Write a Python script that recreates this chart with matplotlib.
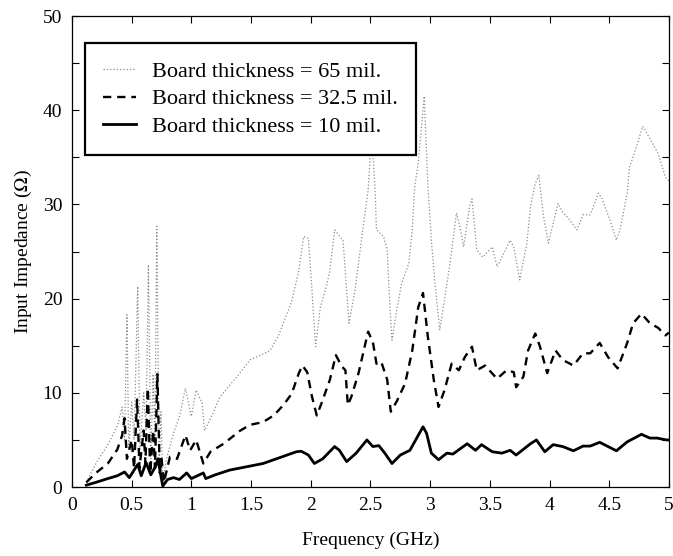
import numpy as np
import matplotlib
matplotlib.use("Agg")
import matplotlib.pyplot as plt
from matplotlib.ticker import MultipleLocator

plt.rcParams['font.family'] = ['Liberation Serif', 'DejaVu Serif']
plt.rcParams['mathtext.fontset'] = 'stix'

# Board thickness = 65 mil (dotted)
f_65 = [0.12, 0.2, 0.3, 0.38, 0.42, 0.44, 0.46, 0.475, 0.5, 0.52, 0.55, 0.57, 0.6, 0.62,
        0.64, 0.66, 0.68, 0.695, 0.71, 0.73, 0.745, 0.76, 0.79, 0.85, 0.9, 0.95, 1.0,
        1.04, 1.09, 1.11, 1.18, 1.24, 1.32, 1.4, 1.49, 1.58, 1.66, 1.73, 1.84, 1.9, 1.94,
        1.98, 2.01, 2.04, 2.08, 2.13, 2.16, 2.2, 2.27, 2.3, 2.32, 2.37, 2.41, 2.45, 2.48,
        2.51, 2.54, 2.55, 2.61, 2.64, 2.66, 2.68, 2.72, 2.76, 2.82, 2.85, 2.87, 2.9, 2.95,
        2.98, 3.01, 3.04, 3.08, 3.12, 3.17, 3.22, 3.25, 3.28, 3.33, 3.35, 3.39, 3.44, 3.52,
        3.56, 3.6, 3.67, 3.7, 3.75, 3.81, 3.84, 3.88, 3.91, 3.95, 3.99, 4.03, 4.07, 4.11,
        4.16, 4.23, 4.28, 4.34, 4.41, 4.44, 4.51, 4.56, 4.59, 4.65, 4.67, 4.72, 4.78, 4.84,
        4.91, 4.97, 5.0]
z_65 = [0.5, 2.5, 4.5, 6.5, 8.5, 5.0, 18.3, 4.0, 9.0, 5.0, 21.3, 4.0, 10.0, 6.0,
        23.6, 3.0, 12.0, 5.0, 27.7, 2.0, 8.0, 0.5, 2.9, 5.7, 7.5, 10.5, 7.5,
        10.3, 8.9, 6.0, 7.8, 9.6, 10.8, 12.0, 13.5, 14.0, 14.5, 16.1, 19.7, 23.0, 26.6,
        26.4, 20.9, 14.9, 19.1, 21.3, 23.0, 27.3, 26.2, 20.9, 17.4, 20.9, 24.8, 28.7, 31.5,
        37.5, 31.2, 27.3, 26.6, 25.2, 19.9, 15.6, 18.8, 21.6, 23.7, 27.3, 31.9, 34.4, 41.5,
        32.2, 26.2, 21.6, 16.7, 19.9, 24.1, 29.1, 27.6, 25.5, 29.8, 30.6, 25.2, 24.4, 25.5,
        23.4, 24.4, 26.2, 25.5, 22.0, 25.9, 29.8, 32.2, 33.1, 28.7, 25.9, 28.0, 30.1, 29.2,
        28.5, 27.3, 28.9, 28.9, 31.2, 30.6, 28.2, 26.2, 27.3, 31.2, 34.0, 35.8, 38.3, 37.0,
        35.4, 32.9, 32.5]

# Board thickness = 32.5 mil (dashed)
f_325 = [0.12, 0.2, 0.3, 0.38, 0.42, 0.44, 0.46, 0.5, 0.52, 0.545, 0.565, 0.6, 0.615,
         0.635, 0.655, 0.68, 0.695, 0.715, 0.735, 0.75, 0.77, 0.82, 0.88, 0.95, 0.99,
         1.04, 1.1, 1.16, 1.27, 1.41, 1.49, 1.6, 1.69, 1.77, 1.84, 1.9, 1.93, 1.97, 2.01,
         2.05, 2.09, 2.16, 2.21, 2.26, 2.29, 2.31, 2.34, 2.4, 2.48, 2.52, 2.55, 2.59, 2.64,
         2.67, 2.72, 2.79, 2.85, 2.9, 2.94, 2.98, 3.03, 3.07, 3.12, 3.18, 3.24, 3.29, 3.35,
         3.39, 3.46, 3.56, 3.64, 3.7, 3.72, 3.78, 3.82, 3.88, 3.92, 3.98, 4.05, 4.11, 4.2,
         4.28, 4.34, 4.42, 4.49, 4.57, 4.65, 4.7, 4.77, 4.84, 4.91, 4.97, 5.0]
z_325 = [0.5, 1.5, 2.5, 4.0, 5.5, 7.3, 3.0, 5.0, 2.0, 9.3, 2.0, 6.0, 2.5,
         10.5, 1.5, 6.0, 2.0, 12.0, 1.5, 3.0, 0.5, 3.2, 3.0, 5.5, 3.9,
         5.0, 2.5, 3.75, 4.6, 6.0, 6.6, 6.9, 7.6, 8.7, 9.9, 12.1, 12.9, 12.2, 9.6,
         7.6, 8.9, 11.4, 14.0, 12.8, 12.4, 8.7, 9.6, 12.1, 16.5, 15.4, 13.1, 13.3, 11.4,
         8.0, 9.1, 11.0, 14.5, 19.1, 20.6, 16.0, 11.4, 8.5, 10.3, 13.1, 12.4, 13.8, 14.9,
         12.4, 12.9, 11.5, 12.4, 12.2, 10.6, 11.7, 14.5, 16.3, 14.9, 12.1, 14.5, 13.5, 12.9,
         14.2, 14.2, 15.3, 13.8, 12.6, 15.3, 17.4, 18.4, 17.4, 16.9, 16.1, 16.4]

# Board thickness = 10 mil (solid)
f_10 = [0.12, 0.2, 0.3, 0.38, 0.44, 0.48, 0.55, 0.58, 0.62, 0.66, 0.7, 0.72, 0.74, 0.76,
        0.8, 0.85, 0.9, 0.96, 1.0, 1.05, 1.1, 1.12, 1.2, 1.32, 1.6, 1.88, 1.92, 1.98,
        2.03, 2.1, 2.2, 2.24, 2.3, 2.38, 2.47, 2.52, 2.57, 2.62, 2.68, 2.75, 2.83, 2.94,
        2.97, 3.01, 3.07, 3.14, 3.19, 3.31, 3.38, 3.43, 3.52, 3.6, 3.67, 3.72, 3.84, 3.89,
        3.96, 4.03, 4.11, 4.2, 4.28, 4.34, 4.42, 4.56, 4.65, 4.77, 4.84, 4.9, 4.98, 5.0]
z_10 = [0.2, 0.5, 0.9, 1.2, 1.6, 1.0, 2.4, 1.2, 2.6, 1.3, 2.2, 3.0, 1.5, 0.1,
        0.8, 1.0, 0.8, 1.5, 0.9, 1.2, 1.5, 0.9, 1.3, 1.8, 2.5, 3.75, 3.8, 3.4,
        2.5, 3.0, 4.3, 3.9, 2.7, 3.6, 5.0, 4.3, 4.4, 3.6, 2.5, 3.4, 3.9, 6.4,
        5.7, 3.6, 2.9, 3.6, 3.5, 4.6, 3.9, 4.5, 3.75, 3.6, 3.9, 3.4, 4.6, 5.0,
        3.75, 4.5, 4.3, 3.85, 4.35, 4.35, 4.75, 3.85, 4.8, 5.6, 5.2, 5.2, 5.0, 5.0]

x_ticks = [0, 0.5, 1, 1.5, 2, 2.5, 3, 3.5, 4, 4.5, 5]
x_ticklabels = ['0', '0.5', '1', '1.5', '2', '2.5', '3', '3.5', '4', '4.5', '5']
y_ticks = [0, 10, 20, 30, 40, 50]

fig = plt.figure(figsize=(6.73, 5.56), dpi=100)
ax = fig.add_axes([0.107, 0.124, 0.887, 0.847])

ax.plot(f_65, z_65, linestyle=':', color='0.55', linewidth=0.9,
        label='Board thickness = 65 mil.')
ax.plot(f_325, z_325, linestyle=(0, (3.5, 2.5)), color='black', linewidth=1.7,
        label='Board thickness = 32.5 mil.')
ax.plot(f_10, z_10, linestyle='-', color='black', linewidth=2.0,
        label='Board thickness = 10 mil.')

ax.set_xlim(0, 5)
ax.set_ylim(0, 50)
ax.set_xticks(x_ticks)
ax.set_xticklabels(x_ticklabels)
ax.set_yticks(y_ticks)
ax.yaxis.set_minor_locator(MultipleLocator(5))
ax.tick_params(which='both', direction='in', top=True, right=True,
               length=5, width=0.8, labelsize=14)
ax.tick_params(axis='y', pad=7)
ax.tick_params(axis='x', pad=7)
for s in ax.spines.values():
    s.set_linewidth(0.9)

ax.set_xlabel('Frequency (GHz)', fontsize=14, labelpad=13)
ax.set_ylabel('Input Impedance ($\\Omega$)', fontsize=14, labelpad=6)

leg = ax.legend(loc='upper left', bbox_to_anchor=(0.022, 0.943), fontsize=16,
                frameon=True, fancybox=False, shadow=False, borderpad=0.82,
                handlelength=1.45, handletextpad=0.75, labelspacing=0.32,
                borderaxespad=0)
leg.get_frame().set_edgecolor('black')
leg.get_frame().set_linewidth(1.6)
leg.get_frame().set_alpha(1)

fig.savefig('out.png', dpi=100)
